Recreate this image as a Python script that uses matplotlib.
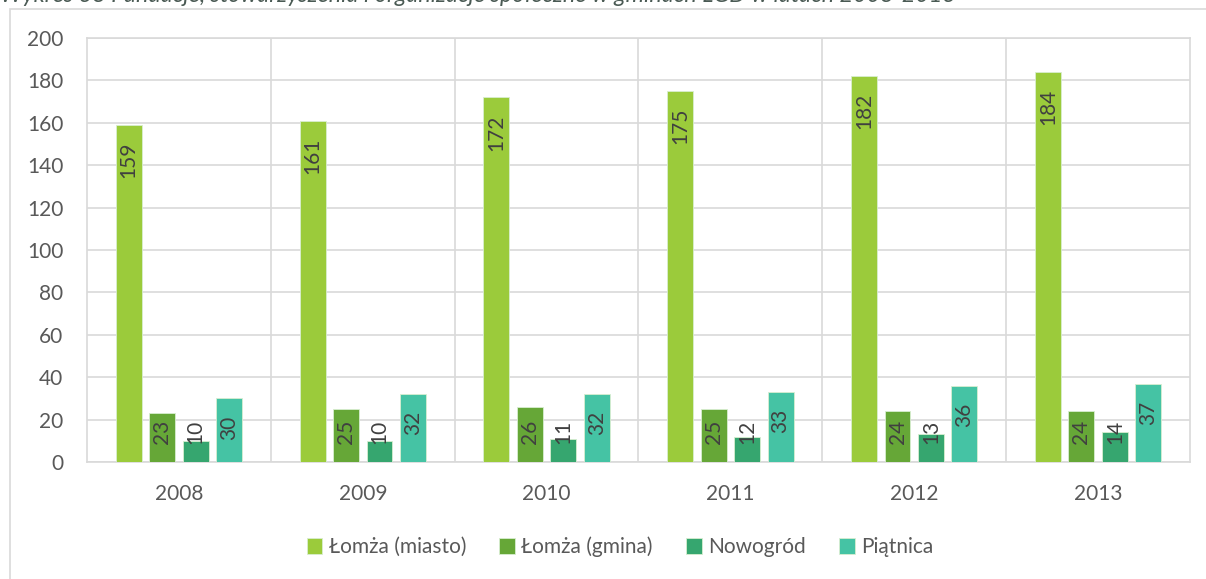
import matplotlib.pyplot as plt
import numpy as np
from matplotlib.patches import Rectangle

plt.rcParams['font.family'] = ['Lato', 'DejaVu Sans']

years = ['2008', '2009', '2010', '2011', '2012', '2013']
series_names = ['Łomża (miasto)', 'Łomża (gmina)', 'Nowogród', 'Piątnica']
lomza_miasto = [159, 161, 172, 175, 182, 184]
lomza_gmina = [23, 25, 26, 25, 24, 24]
nowogrod = [10, 10, 11, 12, 13, 14]
piatnica = [30, 32, 32, 33, 36, 37]
colors = ['#9bcb3b', '#66a737', '#36a66f', '#45c3a4']
title = 'Wykres 38 Fundacje, stowarzyszenia i organizacje społeczne w gminach LGD w latach 2008-2013'

W, H = 1206, 579
fig = plt.figure(figsize=(W / 100, H / 100), dpi=100)

# outer chart frame (cut by the image edge)
fig.patches.append(Rectangle((10 / W, -0.2), 2.0, 1.2 - 9 / H, transform=fig.transFigure,
                             fill=False, edgecolor='#d9d9d9', linewidth=1.2))
fig.text(0.0, 1 - 2 / H, title, fontsize=16.8, style='italic', color='#4a5a54', va='baseline')

ax = fig.add_axes([87 / W, 1 - 462 / H, (1190 - 87) / W, (462 - 38) / H])

x = np.arange(len(years))
pitch, width = 0.182, 0.141
data = [lomza_miasto, lomza_gmina, nowogrod, piatnica]
px_per_unit = 424 / 200

for i, (vals, name, c) in enumerate(zip(data, series_names, colors)):
    xs = x + (i - 1.5) * pitch
    ax.bar(xs, vals, width, color=c, label=name, edgecolor='#d8eed0', linewidth=0.6, zorder=3)
    for xi, v in zip(xs, vals):
        s = str(v)
        L = 10.8 * len(s)
        if v * px_per_unit - 17 - L >= 18.5:
            ax.annotate(s, (xi, v), xytext=(0, -17 * 0.72), textcoords='offset points',
                        rotation=90, ha='center', va='top', fontsize=15, color='#404040', zorder=4)
        else:
            ax.annotate(s, (xi, 0), xytext=(0, 18.5 * 0.72), textcoords='offset points',
                        rotation=90, ha='center', va='bottom', fontsize=15, color='#404040', zorder=4)

ax.set_xlim(-0.5, len(years) - 0.5)
ax.set_ylim(0, 200)
ax.set_yticks(range(0, 201, 20))
ax.set_xticks(x)
ax.set_xticklabels(years)
ax.yaxis.grid(True, color='#d9d9d9', linewidth=1.2, zorder=0)
for b in np.arange(0.5, len(years) - 0.5):
    ax.axvline(b, color='#d9d9d9', linewidth=1.2, zorder=0)
for sp in ax.spines.values():
    sp.set_color('#d9d9d9')
    sp.set_linewidth(1.2)
ax.tick_params(length=0, labelsize=15, labelcolor='#595959')
ax.tick_params(axis='y', pad=17)
ax.tick_params(axis='x', pad=16)

fig.legend(loc='center', bbox_to_anchor=(620 / W, 1 - 547 / H), ncol=4, frameon=False,
           fontsize=15, labelcolor='#595959', handlelength=0.75, handleheight=0.75,
           handletextpad=0.3, columnspacing=1.6)

fig.savefig('out.png', dpi=100)
